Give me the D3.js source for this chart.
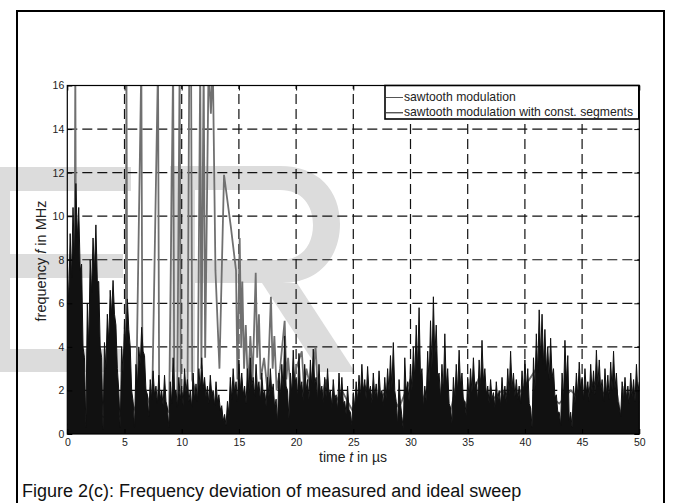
<!DOCTYPE html>
<html><head><meta charset="utf-8">
<script src="https://cdn.jsdelivr.net/npm/d3@7"></script>
<style>body{margin:0;background:#fff}svg{display:block}</style>
</head><body>
<svg id="c" width="675" height="503"></svg>
<script>
// ---------- data ----------
const xTicks = [0,5,10,15,20,25,30,35,40,45,50];
const yTicks = [0,2,4,6,8,10,12,14,16];
const seriesNames = ["sawtooth modulation", "sawtooth modulation with const. segments"];
const caption = "Figure 2(c): Frequency deviation of measured and ideal sweep";

// series 1 (grey): sample times (µs) and frequency deviation (MHz)
const greyT = [0.0,0.6,0.7,0.8,1.6,2.6,3.6,4.6,5.1,5.17,5.25,6.0,6.47,6.57,7.4,7.93,8.03,8.9,9.25,9.35,9.6,9.82,9.92,
  10.5,10.66,10.82,10.92,11.4,11.62,11.72,11.92,12.05,12.35,12.55,12.72,12.95,13.3,13.7,14.3,14.75,14.87,
  15.07,15.2,15.3,15.45,15.6,15.8,16.0,16.2,16.47,16.6,16.75,16.9,17.2,17.5,17.8,17.95,18.1,18.3,18.6,
  19.0,19.15,19.3,19.6,20.0,20.5,20.7,20.9,21.3,21.7,22.0,22.6,23.2,24.0,25.0,26.0,27.0,28.0,29.0,
  30.0,31.0,32.2,32.6,32.9,33.3,34.0,35.0,36.0,37.0,38.0,39.0,40.0,41.0,42.0,43.0,44.0,45.0,46.0,47.0,48.0,48.4,48.7,49.1,50.0];
const greyV = [0.4,0.8,17,0.6,0.5,0.9,0.7,0.8,1.5,17,2.0,1.0,17,2.5,1.0,17,1.5,1.0,17,1.5,1.0,17,2.0,
  1.2,17,17,2.5,1.5,17,3.0,17,3.5,17,14.7,17,7.5,3.0,11.9,9.5,7.5,2.5,
  9.0,4.0,7.0,3.0,5.0,2.0,4.5,2.5,7.4,3.5,5.5,2.5,3.5,2.0,6.3,3.0,4.5,2.0,3.0,
  5.2,2.5,3.5,1.5,3.0,3.8,2.0,3.0,2.0,4.0,1.0,2.5,1.2,2.0,1.0,2.2,1.5,2.0,1.2,
  2.5,1.5,3.0,1.0,2.0,0.6,2.2,1.2,2.6,1.5,2.0,1.6,2.2,3.0,1.8,1.4,2.0,1.5,2.4,1.8,2.0,0.8,2.2,1.0,1.5];

// series 2 (black): sampled every 0.125 µs from t = 0 to 50
const blackStep = 0.125;
const blackV = [
 8.0,6.0,9.2,7.2,10.4,8.0,11.5,9.0,
 10.4,7.5,7.8,4.0,3.5,0.3,6.0,4.0,
 8.0,6.5,9.0,7.5,9.6,7.0,7.0,4.0,
 3.5,0.2,4.2,3.0,5.5,4.2,6.6,5.5,
 7.05,5.5,5.0,3.0,2.0,0.3,4.0,2.8,
 5.2,4.0,6.2,4.8,4.0,2.0,1.5,0.3,
 3.2,2.2,4.0,3.2,4.9,3.8,3.6,2.0,
 1.8,0.8,2.5,1.6,2.9,1.8,2.2,1.4,
 2.7,1.6,2.0,1.3,2.7,1.5,1.2,0.3,
 2.4,1.4,3.5,2.0,2.0,1.2,2.6,1.6,
 2.2,1.3,3.0,1.9,2.5,1.5,2.0,1.2,
 2.8,1.6,2.3,1.5,3.0,2.0,3.5,2.1,
 2.6,1.7,2.2,1.4,2.7,1.8,2.0,1.3,
 2.4,1.5,1.8,1.1,1.3,0.6,0.9,0.4,
 1.5,0.9,2.6,1.6,3.0,1.9,2.4,1.5,
 3.4,2.0,2.8,1.8,2.2,1.4,3.0,1.9,
 3.5,2.2,2.6,1.7,3.2,2.0,2.4,1.5,
 2.8,1.8,2.0,1.3,2.6,1.7,3.0,1.9,
 2.3,1.2,1.6,0.5,2.8,1.7,3.2,2.0,
 4.5,2.2,2.0,0.7,2.8,1.8,3.85,2.2,
 2.6,1.7,3.7,2.1,2.4,1.5,3.2,2.0,
 2.5,1.6,3.4,2.1,3.9,2.3,2.6,1.5,
 3.2,1.9,2.2,1.4,2.6,1.7,3.0,1.8,
 2.0,1.2,2.5,1.6,1.8,1.1,2.8,1.5,
 2.6,1.4,1.5,0.9,2.2,1.1,1.0,0.4,
 1.9,1.2,2.4,1.5,2.7,1.7,3.2,1.9,
 2.5,1.6,3.1,1.9,2.2,1.4,2.8,1.7,
 2.3,1.5,2.9,1.8,2.0,1.3,2.6,1.6,
 3.0,1.9,3.6,2.1,4.2,2.0,1.5,0.4,
 2.5,1.4,0.8,0.2,3.5,1.9,2.4,1.5,
 3.2,2.0,4.0,2.5,5.0,3.0,5.8,2.6,
 3.0,1.2,2.2,1.5,3.8,2.3,5.2,3.0,
 6.3,3.5,5.0,2.6,2.8,1.6,3.2,1.9,
 4.6,2.2,3.0,1.4,1.2,0.5,2.6,1.5,
 3.2,1.9,3.85,2.2,2.8,1.5,1.5,0.8,
 2.6,1.6,3.0,1.9,3.5,2.1,2.4,1.5,
 3.4,2.1,4.3,2.4,3.0,1.8,2.2,1.4,
 2.5,1.6,1.9,1.2,2.4,1.5,2.0,1.3,
 2.6,1.6,2.2,1.4,3.0,1.8,3.8,2.1,
 2.8,1.7,2.5,1.6,2.2,1.4,2.9,1.8,
 3.4,2.0,3.0,1.4,1.2,0.3,3.5,2.0,
 4.6,2.8,5.7,3.5,5.5,3.2,4.8,2.9,
 4.0,2.5,4.4,2.6,3.0,1.7,1.8,1.0,
 1.0,0.4,2.8,1.6,4.3,2.4,3.6,0.6,
 1.0,0.3,2.2,1.4,2.8,1.7,3.3,2.0,
 2.6,1.6,3.0,1.9,2.4,1.5,3.2,1.9,
 2.9,1.8,3.85,2.2,3.4,2.0,2.5,1.5,
 3.0,1.8,2.7,1.6,3.3,2.0,3.8,2.1,
 2.8,1.5,1.2,0.8,2.4,1.5,2.6,1.6,
 2.2,1.4,2.8,1.7,2.5,1.5,3.2,1.9,
 2.4];

// ---------- drawing ----------
const svg = d3.select("#c");
const FONT = "'Liberation Sans', Arial, sans-serif";
const L = 67.3, R = 639.3, T = 85.5, B = 434;
const x = d3.scaleLinear().domain([0,50]).range([L,R]);
const y = d3.scaleLinear().domain([0,16]).range([B,T]);

// watermark
const wm = svg.append("g").attr("fill","#dcdcdc");
wm.append("path").attr("d","M0,167H131V191H10V254H123V278H10V349H131V372H0Z");
wm.append("path").attr("fill-rule","evenodd")
  .attr("d","M170,166H280C318,166 340,190 340,224C340,258 318,283 282,283H195V372H170Z M195,190H280C302,190 313,205 313,225C313,245 302,260 280,260H195Z");
wm.append("path").attr("d","M262,283H297L355,372H320Z");

// page frame
svg.append("rect").attr("x",17).attr("y",11).attr("width",647).attr("height",520)
  .attr("fill","none").attr("stroke","#000").attr("stroke-width",2);

// grid
const grid = svg.append("g").attr("stroke","#111").attr("stroke-width",1.2).attr("stroke-dasharray","10,5");
grid.selectAll("line.v").data(xTicks.slice(1,-1)).join("line")
  .attr("x1",d=>x(d)).attr("x2",d=>x(d)).attr("y1",B).attr("y2",T);
grid.selectAll("line.h").data(yTicks.slice(1,-1)).join("line")
  .attr("y1",d=>y(d)).attr("y2",d=>y(d)).attr("x1",L).attr("x2",R);

// clip
svg.append("clipPath").attr("id","clip").append("rect")
  .attr("x",L).attr("y",T).attr("width",R-L).attr("height",B-T);

const greyData = greyT.map((t,i)=>[t,greyV[i]]);
const blackData = blackV.map((v,i)=>[i*blackStep, v]);
const line = d3.line().x(d=>x(d[0])).y(d=>y(d[1]));
const area = d3.area().x(d=>x(d[0])).y0(y(0)).y1(d=>y(d[1]));
const plot = svg.append("g").attr("clip-path","url(#clip)");
plot.append("path").datum(greyData).attr("d",line)
  .attr("fill","none").attr("stroke","#707070").attr("stroke-width",1.8);
plot.append("path").datum(blackData).attr("d",area)
  .attr("fill","#111").attr("stroke","none");
plot.append("path").datum(blackData).attr("d",line)
  .attr("fill","none").attr("stroke","#111").attr("stroke-width",1);

// axes
const axB = svg.append("g").attr("transform",`translate(0,${B})`)
  .call(d3.axisBottom(x).tickValues(xTicks).tickSizeInner(-5).tickSizeOuter(0).tickPadding(5));
const axL = svg.append("g").attr("transform",`translate(${L},0)`)
  .call(d3.axisLeft(y).tickValues(yTicks).tickSizeInner(-5).tickSizeOuter(0).tickPadding(3));
const axT = svg.append("g").attr("transform",`translate(0,${T})`)
  .call(d3.axisTop(x).tickValues(xTicks).tickSizeInner(-5).tickSizeOuter(0).tickFormat(""));
const axR = svg.append("g").attr("transform",`translate(${R},0)`)
  .call(d3.axisRight(y).tickValues(yTicks).tickSizeInner(-5).tickSizeOuter(0).tickFormat(""));
[axB,axL,axT,axR].forEach(a=>{
  a.select(".domain").remove();
  a.selectAll(".tick line").attr("stroke","#000");
  a.selectAll("text").attr("font-family",FONT).attr("font-size",10.5).attr("fill","#222");
});
svg.append("rect").attr("x",L).attr("y",T).attr("width",R-L).attr("height",B-T)
  .attr("fill","none").attr("stroke","#000").attr("stroke-width",1.2);

// legend
const lg = svg.append("g");
lg.append("rect").attr("x",385).attr("y",T).attr("width",R-385-0.5).attr("height",33.5)
  .attr("fill","#fff").attr("stroke","#000").attr("stroke-width",1.6);
const legColors = ["#555","#111"];
const legY = [97.5,112.8];
seriesNames.forEach((n,i)=>{
  lg.append("line").attr("x1",386).attr("x2",403).attr("y1",legY[i]).attr("y2",legY[i])
    .attr("stroke",legColors[i]).attr("stroke-width",1);
  lg.append("text").attr("x",404).attr("y",legY[i]+3.6).text(n)
    .attr("font-family",FONT).attr("font-size",12.2).attr("fill","#222");
});

// axis labels
const xl = svg.append("text").attr("x",353).attr("y",462).attr("text-anchor","middle")
  .attr("font-family",FONT).attr("font-size",14).attr("fill","#222");
xl.append("tspan").text("time ");
xl.append("tspan").attr("font-style","italic").text("t");
xl.append("tspan").text(" in µs");

const yl = svg.append("text").attr("transform","translate(46,261) rotate(-90)").attr("text-anchor","middle")
  .attr("font-family",FONT).attr("font-size",14.5).attr("fill","#222");
yl.append("tspan").text("frequency ");
yl.append("tspan").attr("font-style","italic").text("f");
yl.append("tspan").text(" in MHz");

// caption
svg.append("text").attr("x",22).attr("y",497).text(caption)
  .attr("font-family",FONT).attr("font-size",18).attr("fill","#111");
</script>
</body></html>
